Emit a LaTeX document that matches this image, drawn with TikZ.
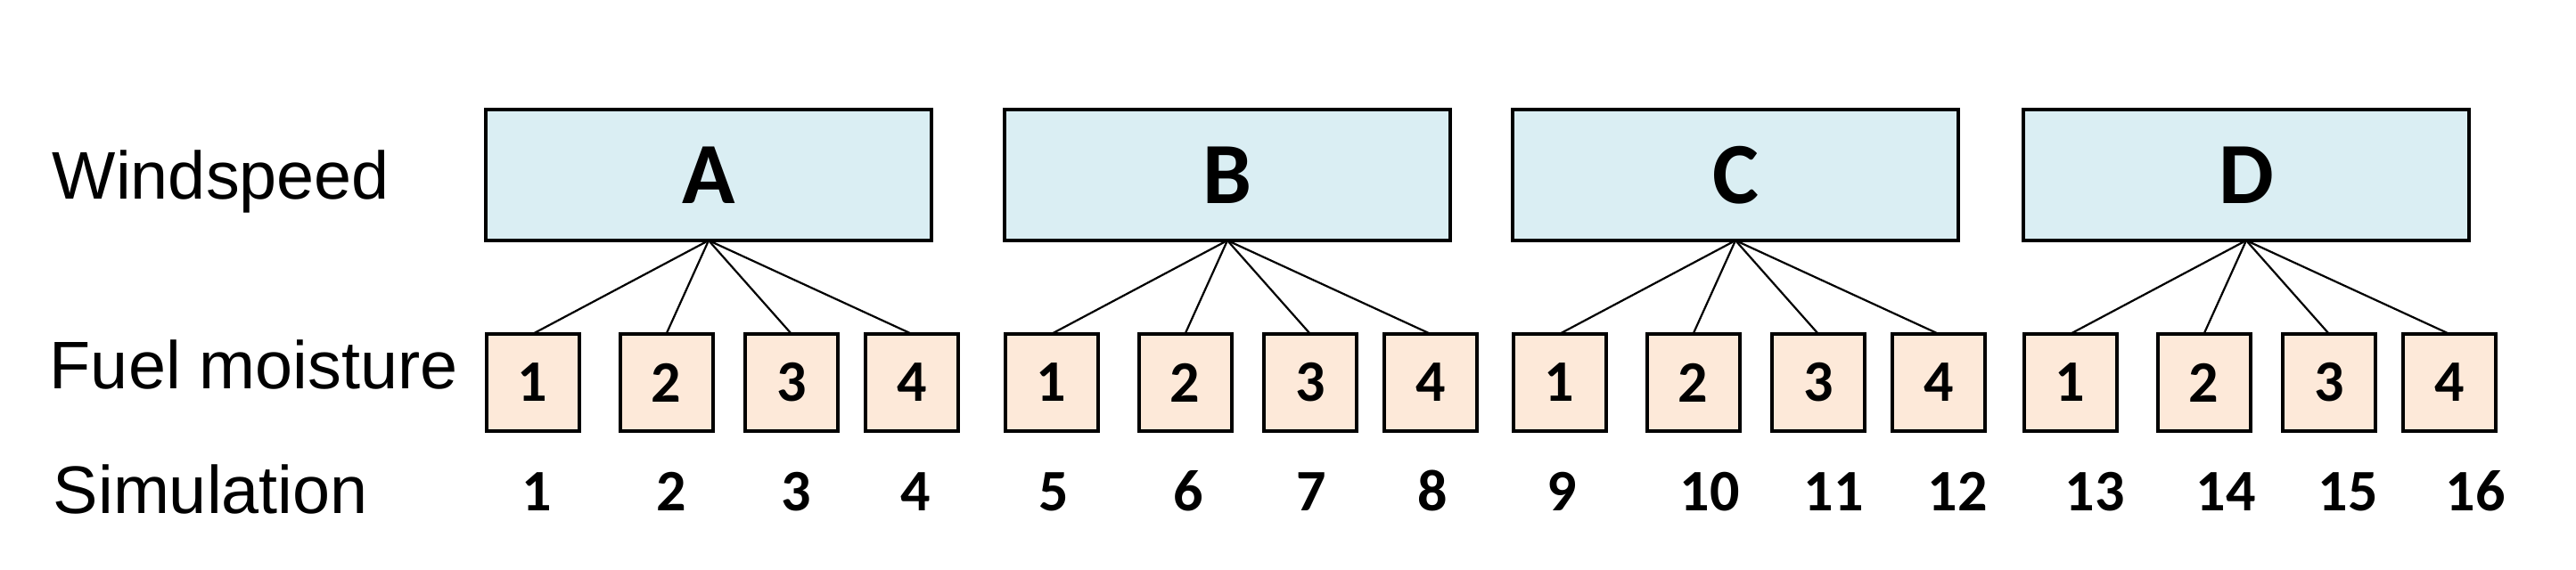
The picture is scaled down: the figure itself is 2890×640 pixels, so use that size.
\documentclass[tikz,border=0pt]{standalone}
\usepackage{fontspec}
\setmainfont{Liberation Sans}
\newfontfamily\numfont{Carlito}
\definecolor{bigfill}{HTML}{DAEEF3}
\definecolor{smallfill}{HTML}{FDE9D9}
\begin{document}
\begin{tikzpicture}[x=0.25pt,y=-0.25pt,
  bigbox/.style={draw=black,line width=1pt,fill=bigfill,minimum width=125pt,minimum height=36.75pt,inner sep=0pt,outer sep=0pt,font=\numfont\bfseries\fontsize{24.5}{28}\selectfont},
  smallbox/.style={draw=black,line width=1pt,fill=smallfill,minimum width=26pt,minimum height=27.25pt,inner sep=0pt,outer sep=0pt,font=\numfont\bfseries\fontsize{16.5}{20}\selectfont},
  simnum/.style={anchor=base,inner sep=0pt,font=\numfont\bfseries\fontsize{16.5}{20}\selectfont},
  rowlabel/.style={anchor=base west,inner sep=0pt,font=\fontsize{18.9}{22}\selectfont},
  link/.style={draw=black,line width=0.55pt}]
\fill[white] (0,0) rectangle (2890,640);
\useasboundingbox (0,0) rectangle (2890,640);
\node[rowlabel] (lw) at (58,224) {Windspeed};
\node[rowlabel] (lf) at (55,437) {Fuel moisture};
\node[rowlabel] (ls) at (59,576) {Simulation};
\foreach \g/\L/\left in {a/A/545,b/B/1127,c/C/1697,d/D/2270}{
  \node[bigbox] (\g) at (\left+250,196.5) {\L};
  \foreach \off [count=\k] in {52.5,202.5,343,478}{
    \node[smallbox] (\g\k) at (\left+\off,429.5) {\k};
    \draw[link] (\g.south) -- (\g\k.north);
  }
}
\foreach \x [count=\n] in {602,753,893,1027,1182,1333,1471,1607,1752,1918,2057,2196,2350,2497,2634,2777}{
  \node[simnum] (s\n) at (\x,573) {\n};
}
\end{tikzpicture}
\end{document}
